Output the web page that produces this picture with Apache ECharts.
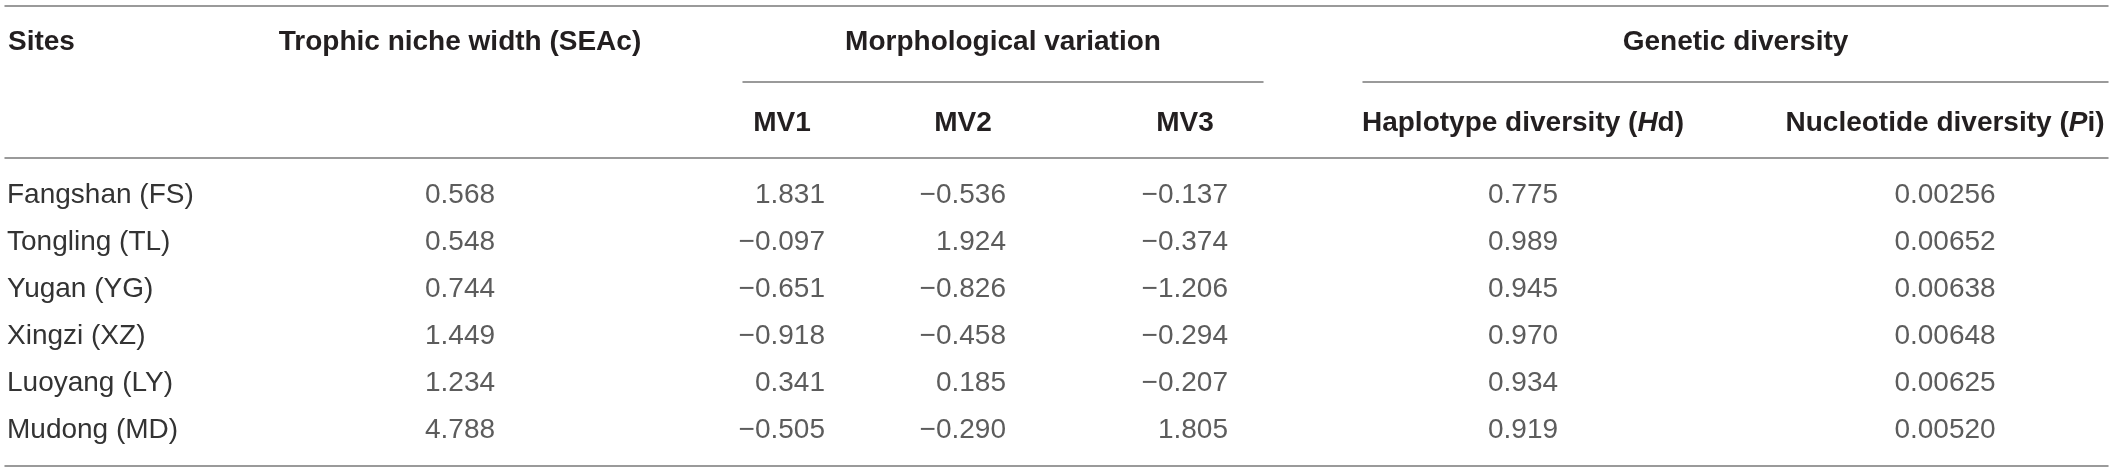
<!DOCTYPE html>
<html>
<head>
<meta charset="utf-8">
<title>Trophic niche, morphology and genetic diversity by site</title>
<script src="https://cdn.jsdelivr.net/npm/echarts@6/dist/echarts.min.js"></script>
<style>
  html, body { margin: 0; padding: 0; background: #fff; }
  #chart { width: 2118px; height: 472px; }
</style>
</head>
<body>
<div id="chart"></div>
<script>
// table values
const sites = ['Fangshan (FS)', 'Tongling (TL)', 'Yugan (YG)', 'Xingzi (XZ)', 'Luoyang (LY)', 'Mudong (MD)']
const seac = [0.568, 0.548, 0.744, 1.449, 1.234, 4.788]
const mv1 = [1.831, -0.097, -0.651, -0.918, 0.341, -0.505]
const mv2 = [-0.536, 1.924, -0.826, -0.458, 0.185, -0.290]
const mv3 = [-0.137, -0.374, -1.206, -0.294, -0.207, 1.805]
const hd = [0.775, 0.989, 0.945, 0.970, 0.934, 0.919]
const pi = [0.00256, 0.00652, 0.00638, 0.00648, 0.00625, 0.00520]

const FONT = 'Liberation Sans'
const INK = '#231f20'
const BODY = '#333'
const RULE = { color: '#7a7a7a', width: 1.5 }
const SIZE = 28

// layout: where each column sits (header centre) and how its numbers line up
const columns = [
  { key: 'seac', values: seac, digits: 3, center: 460, align: 'center', head: 'Trophic niche width (SEAc)', sub: '' },
  { key: 'mv1', values: mv1, digits: 3, center: 782, align: 'right', sub: '{b|MV1}' },
  { key: 'mv2', values: mv2, digits: 3, center: 963, align: 'right', sub: '{b|MV2}' },
  { key: 'mv3', values: mv3, digits: 3, center: 1185, align: 'right', sub: '{b|MV3}' },
  { key: 'hd', values: hd, digits: 3, center: 1523, align: 'center', sub: '{b|Haplotype diversity (}{i|H}{b|d)}' },
  { key: 'pi', values: pi, digits: 5, center: 1945, align: 'center', sub: '{b|Nucleotide diversity (}{i|P}{b|i)}' }
]
const groups = [
  { name: 'Morphological variation', from: 743, to: 1263 },
  { name: 'Genetic diversity', from: 1363, to: 2108 }
]

const rowTop = 172   // first band of body rows
const rowHeight = 282
const headRow1 = 42
const headRow2 = 123
const groupLine = 82
const rules = { left: 5, right: 10, top: 6, header: 158, bottom: 6 }

const fmt = (v, d) => (v < 0 ? '\u2212' : '') + Math.abs(v).toFixed(d)

const headStyle = { fontFamily: FONT, fontSize: SIZE, fontWeight: 'bold', color: INK }
const rich = {
  b: { ...headStyle },
  i: { ...headStyle, fontStyle: 'italic' }
}
const off = { axisTick: { show: false }, axisLabel: { show: false }, splitLine: { show: false } }
const ruleLine = { show: true, onZero: false, lineStyle: RULE }

const grid = []
const xAxis = []
const yAxis = []
const series = []

// outer rules (top and bottom of table)
grid.push({ left: rules.left, right: rules.right, top: rules.top, bottom: rules.bottom, outerBoundsMode: 'none' })
xAxis.push({ gridIndex: 0, type: 'value', position: 'top', axisLine: ruleLine, ...off })
xAxis.push({ gridIndex: 0, type: 'value', position: 'bottom', axisLine: ruleLine, ...off })
yAxis.push({ gridIndex: 0, type: 'value', show: false })

// rule under the header
grid.push({ left: rules.left, right: rules.right, top: rules.header, height: 10, outerBoundsMode: 'none' })
xAxis.push({ gridIndex: 1, type: 'value', position: 'top', axisLine: ruleLine, ...off })
yAxis.push({ gridIndex: 1, type: 'value', show: false })

// group headers with their underline
groups.forEach((g) => {
  const gi = grid.length
  grid.push({ left: g.from, width: g.to - g.from, top: groupLine, height: 20, outerBoundsMode: 'none' })
  xAxis.push({
    gridIndex: gi, type: 'value', position: 'top',
    axisLine: ruleLine, ...off,
    name: g.name, nameLocation: 'middle', nameGap: groupLine - headRow1, nameMoveOverlap: false,
    nameTextStyle: { ...headStyle, verticalAlign: 'middle' }
  })
  yAxis.push({ gridIndex: gi, type: 'value', show: false })
})

// site names down the left
const si = grid.length
grid.push({ left: 7, width: 2, top: rowTop, height: rowHeight, outerBoundsMode: 'none' })
xAxis.push({
  gridIndex: si, type: 'category', data: ['Sites'], position: 'top',
  axisLine: { show: false }, ...off,
  name: 'Sites', nameLocation: 'middle', nameGap: rowTop - headRow1, nameMoveOverlap: false,
  nameTextStyle: { ...headStyle, align: 'left', verticalAlign: 'middle' }
})
yAxis.push({
  gridIndex: si, type: 'category', data: sites, inverse: true,
  axisLine: { show: false }, axisTick: { show: false }, splitLine: { show: false },
  axisLabel: { align: 'left', margin: 0, fontFamily: FONT, fontSize: SIZE, color: BODY, verticalAlign: 'middle' }
})

// one narrow grid per value column
columns.forEach((c) => {
  const gi = grid.length
  const xi = xAxis.length
  const yi = yAxis.length
  grid.push({ left: c.center - 40, width: 80, top: rowTop, height: rowHeight, outerBoundsMode: 'none' })
  xAxis.push({
    gridIndex: gi, type: 'category', data: [c.key], position: 'top',
    axisLine: { show: false }, axisTick: { show: false }, splitLine: { show: false },
    axisLabel: {
      show: !!c.sub, margin: rowTop - headRow2, verticalAlign: 'middle',
      formatter: () => c.sub, rich
    },
    name: c.head || '', nameLocation: 'middle', nameGap: rowTop - headRow1, nameMoveOverlap: false,
    nameTextStyle: { ...headStyle, verticalAlign: 'middle' }
  })
  yAxis.push({ gridIndex: gi, type: 'category', data: sites, inverse: true, show: false })
  series.push({
    type: 'scatter', name: c.key, xAxisIndex: xi, yAxisIndex: yi,
    symbolSize: 1, itemStyle: { color: 'transparent' }, silent: true,
    data: c.values.map((v, i) => [0, i, v]),
    label: {
      show: true, position: 'inside', align: c.align, verticalAlign: 'middle',
      offset: c.align === 'right' ? [43, 0] : [0, 0],
      formatter: (p) => fmt(p.value[2], c.digits),
      fontFamily: FONT, fontSize: SIZE, color: BODY
    }
  })
})

const chart = echarts.init(document.getElementById('chart'))
chart.setOption({
  animation: false,
  backgroundColor: '#fff',
  grid, xAxis, yAxis, series
})
</script>
</body>
</html>
